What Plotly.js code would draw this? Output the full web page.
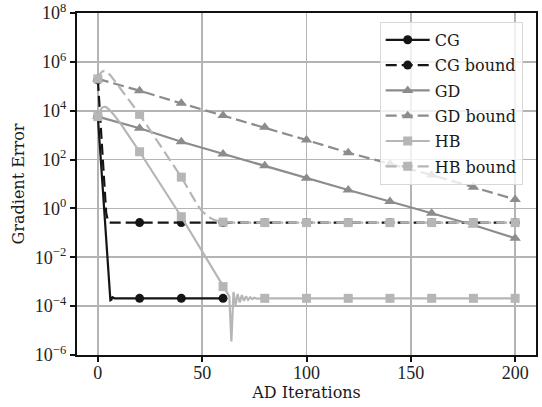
<!DOCTYPE html>
<html>
<head>
<meta charset="utf-8">
<script src="https://cdn.plot.ly/plotly-3.0.1.min.js"></script>
<style>html,body{margin:0;padding:0;background:#fff;}#chart{width:542px;height:407px;}</style>
</head>
<body>
<div id="chart"></div>
<script>
// ---- data ----
const cgX = [0, 1, 2, 3, 4, 5, 5.6, 6, 6.5, 7, 8, 20, 40, 60];
const cgY = [5754, 295, 15.1, 0.79, 0.040, 2.0e-3, 2.8e-4, 1.74e-4, 1.82e-4, 2.3e-4, 2.09e-4, 2.09e-4, 2.09e-4, 2.09e-4];

const cgBoundX = [0, 1, 2, 3, 4, 5, 6, 20, 40, 60, 80, 100, 120, 140, 160, 180, 200];
const cgBoundY = [1.82e5, 7943, 316, 12.6, 0.63, 0.28, 0.263, 0.263, 0.263, 0.263, 0.263, 0.263, 0.263, 0.263, 0.263, 0.263, 0.263];

const gdX = [0, 20, 40, 60, 80, 100, 120, 140, 160, 180, 200];
const gdY = [5754, 1905, 537, 170, 56.2, 17.0, 5.69, 1.91, 0.631, 0.209, 0.0603];

const gdBoundX = [0, 20, 40, 60, 80, 100, 120, 140, 160, 180, 200];
const gdBoundY = [2.0e5, 6.6e4, 2.0e4, 6310, 2089, 631, 191, 66, 23.4, 7.41, 2.34];

const hbX = [0, 1, 2, 3, 4, 6, 8, 11, 15, 20, 40, 60, 61, 62, 63, 64, 65, 66, 67, 68, 69, 70, 71, 72, 73, 74, 75, 76, 78, 80, 100, 120, 140, 160, 180, 200];
const hbY = [5754, 1e4, 1.32e4, 1.45e4, 1.41e4, 1e4, 6310, 2884, 891, 209, 0.457, 6.3e-4, 4.47e-4, 3.31e-4, 2.51e-4, 3.55e-6, 3.8e-4, 1.12e-4, 3.16e-4, 1.41e-4, 2.82e-4, 1.66e-4, 2.51e-4, 1.82e-4, 2.29e-4, 1.95e-4, 2.19e-4, 2.04e-4, 2.09e-4, 2.09e-4, 2.09e-4, 2.09e-4, 2.09e-4, 2.09e-4, 2.09e-4, 2.09e-4];

const hbBoundX = [0, 1, 2, 3, 4, 6, 10, 15, 20, 40, 48, 50, 53, 56, 60, 64, 80, 100, 120, 140, 160, 180, 200];
const hbBoundY = [2.0e5, 3.16e5, 3.98e5, 4.27e5, 4.0e5, 2.82e5, 1e5, 2.51e4, 7079, 19.1, 1.26, 0.759, 0.447, 0.331, 0.275, 0.263, 0.263, 0.263, 0.263, 0.263, 0.263, 0.263, 0.263];

const xTickVals = [0, 50, 100, 150, 200];
const yTickVals = [1e-6, 1e-4, 1e-2, 1e0, 1e2, 1e4, 1e6, 1e8];
const yTickText = ['10<sup>\u22126</sup>', '10<sup>\u22124</sup>', '10<sup>\u22122</sup>', '10<sup>0</sup>', '10<sup>2</sup>', '10<sup>4</sup>', '10<sup>6</sup>', '10<sup>8</sup>'];

const seriesNames = ['CG', 'CG bound', 'GD', 'GD bound', 'HB', 'HB bound'];

// ---- styles ----
const BLACK = '#151515', GD = '#8c8c8c', HB = '#b6b6b6';
const DASH = '11px,5px';
const series = [
  {name: seriesNames[0], x: cgX, y: cgY, color: BLACK, dash: 'solid', symbol: 'circle', size: 9},
  {name: seriesNames[1], x: cgBoundX, y: cgBoundY, color: BLACK, dash: DASH, symbol: 'circle', size: 9},
  {name: seriesNames[2], x: gdX, y: gdY, color: GD, dash: 'solid', symbol: 'triangle-up', size: 10},
  {name: seriesNames[3], x: gdBoundX, y: gdBoundY, color: GD, dash: DASH, symbol: 'triangle-up', size: 10},
  {name: seriesNames[4], x: hbX, y: hbY, color: HB, dash: 'solid', symbol: 'square', size: 9},
  {name: seriesNames[5], x: hbBoundX, y: hbBoundY, color: HB, dash: DASH, symbol: 'square', size: 9}
];

const traces = [];
series.forEach(s => {
  traces.push({x: s.x, y: s.y, mode: 'lines', line: {color: s.color, width: 2.2, dash: s.dash}, showlegend: false, hoverinfo: 'skip'});
  const mx = [], my = [];
  s.x.forEach((v, i) => { if (v % 20 === 0) { mx.push(v); my.push(s.y[i]); } });
  traces.push({x: mx, y: my, mode: 'markers', marker: {color: s.color, size: s.size, symbol: s.symbol, line: {width: 0}}, showlegend: false, hoverinfo: 'skip'});
});
series.forEach((s, i) => {
  traces.push({x: [null], y: [null], name: s.name, legendgroup: 'g' + i, mode: 'lines+markers', line: {color: s.color, width: 2.2, dash: s.dash}, marker: {color: s.color, size: s.size, symbol: s.symbol}, showlegend: true});
});

const layout = {
  width: 542, height: 407,
  margin: {l: 77, r: 6, t: 13, b: 52},
  paper_bgcolor: '#fff', plot_bgcolor: '#fff',
  showlegend: true,
  legend: {
    x: 0.971, xanchor: 'right', y: 0.974, yanchor: 'top',
    bgcolor: 'rgba(255,255,255,0.8)', bordercolor: '#d8d8d8', borderwidth: 1,
    font: {family: 'DejaVu Serif', size: 16, color: '#1a1a1a'},
    tracegroupgap: 1.5, itemwidth: 44
  },
  xaxis: {
    range: [-10, 210], tickmode: 'array', tickvals: xTickVals,
    showgrid: true, gridcolor: '#b4b4b4', gridwidth: 1.6, zeroline: false,
    showline: true, linecolor: '#111', linewidth: 2.2, mirror: true,
    ticks: 'outside', ticklen: 5, tickwidth: 2, tickcolor: '#111',
    ticklabelstandoff: -5,
    tickfont: {family: 'Liberation Serif', size: 18, color: '#222'},
    title: {text: 'AD Iterations', font: {family: 'DejaVu Serif', size: 16, color: '#1a1a1a'}, standoff: 0}
  },
  yaxis: {
    type: 'log', range: [-6, 8], tickmode: 'array', tickvals: yTickVals, ticktext: yTickText,
    showgrid: true, gridcolor: '#b4b4b4', gridwidth: 1.6, zeroline: false,
    showline: true, linecolor: '#111', linewidth: 2.2, mirror: true,
    ticks: 'outside', ticklen: 5, tickwidth: 2, tickcolor: '#111',
    tickfont: {family: 'Liberation Serif', size: 18, color: '#222'},
    title: {text: 'Gradient Error', font: {family: 'DejaVu Serif', size: 16, color: '#1a1a1a'}, standoff: 6}
  }
};

Plotly.newPlot('chart', traces, layout, {staticPlot: true, displayModeBar: false});
</script>
</body>
</html>
